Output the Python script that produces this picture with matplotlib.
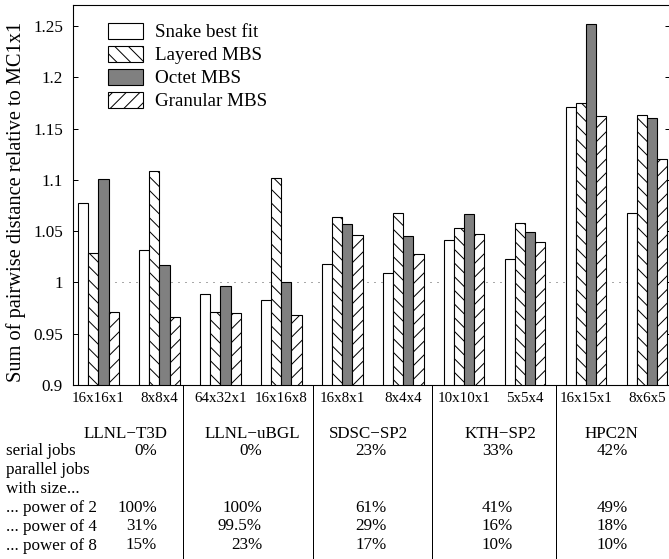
import matplotlib
matplotlib.use("Agg")
import matplotlib.pyplot as plt
from matplotlib.patches import Patch
from matplotlib.lines import Line2D
import numpy as np

# ---- data ----
configs = ["16x16x1", "8x8x4", "64x32x1", "16x16x8", "16x8x1",
           "8x4x4", "10x10x1", "5x5x4", "16x15x1", "8x6x5"]
snake = [1.077, 1.032, 0.989, 0.983, 1.018, 1.009, 1.041, 1.023, 1.171, 1.068]
layered = [1.029, 1.109, 0.971, 1.102, 1.064, 1.068, 1.053, 1.058, 1.175, 1.163]
octet = [1.101, 1.017, 0.997, 1.000, 1.057, 1.045, 1.067, 1.049, 1.252, 1.160]
granular = [0.971, 0.966, 0.970, 0.968, 1.046, 1.028, 1.047, 1.039, 1.162, 1.120]
series_names = ["Snake best fit", "Layered MBS", "Octet MBS", "Granular MBS"]

yticks = [0.9, 0.95, 1.0, 1.05, 1.1, 1.15, 1.2, 1.25]
ytick_labels = ["0.9", "0.95", "1", "1.05", "1.1", "1.15", "1.2", "1.25"]

machines = ["LLNL\u2212T3D", "LLNL\u2212uBGL", "SDSC\u2212SP2", "KTH\u2212SP2", "HPC2N"]
row_labels = ["serial jobs", "parallel jobs", "with size...",
              "... power of 2", "... power of 4", "... power of 8"]
serial = ["0%", "0%", "23%", "33%", "42%"]
pow2 = ["100%", "100%", "61%", "41%", "49%"]
pow4 = ["31%", "99.5%", "29%", "16%", "18%"]
pow8 = ["15%", "23%", "17%", "10%", "10%"]

# ---- layout (pixels of the 669x559 output) ----
DPI = 82
W, H = 669, 559


def pt(v):
    # pixels -> points
    return v * 72.0 / DPI


plt.rcParams["font.family"] = ["Liberation Serif", "DejaVu Serif"]
plt.rcParams["hatch.linewidth"] = pt(1.0)

fig = plt.figure(figsize=(W / DPI, H / DPI), dpi=DPI)
ax = fig.add_axes([73 / W, (H - 385) / H, (670 - 73) / W, 380 / H])

x = np.arange(len(configs))
width = 0.167
styles = [
    dict(color="white", hatch=None),
    dict(color="white", hatch="\\\\"),
    dict(color="#808080", hatch=None),
    dict(color="white", hatch="//"),
]
handles = []
for i, (vals, st) in enumerate(zip([snake, layered, octet, granular], styles)):
    ax.bar(x + (i - 1.5) * width, vals, width, bottom=0,
           color=st["color"], edgecolor="black", hatch=st["hatch"],
           linewidth=pt(1.1), zorder=2)
    handles.append(Patch(facecolor=st["color"], edgecolor="black",
                         hatch=st["hatch"], linewidth=pt(1.1)))

ax.axhline(1.0, color="#555555", linewidth=pt(1.0),
           linestyle=(0, (1, 6)), zorder=1)

ax.set_xlim(-0.4184, 9.378)
ax.set_ylim(0.9, 1.2705)
ax.set_yticks(yticks)
ax.set_yticklabels(ytick_labels)
ax.set_xticks(x)
ax.set_xticklabels(configs)
ax.tick_params(axis="y", direction="in", left=True, right=True,
               length=pt(5), width=pt(1), labelsize=pt(17), pad=pt(10))
ax.tick_params(axis="x", length=0, labelsize=pt(15), pad=pt(7.5))
for sp in ax.spines.values():
    sp.set_linewidth(pt(1.1))

ax.set_ylabel("Sum of pairwise distance relative to MC1x1", fontsize=pt(20.4))
ax.yaxis.set_label_coords(-0.079, 0.483)

leg_fs = 19.0
ax.legend(handles, series_names, loc="upper left",
          bbox_to_anchor=((108 - 73) / 597, (385 - 23) / 380),
          frameon=False, fontsize=pt(leg_fs), borderpad=0, borderaxespad=0,
          handlelength=35 / leg_fs, handleheight=17 / leg_fs,
          handletextpad=12 / leg_fs, labelspacing=0.24)

# ---- table under the axes ----
def fx(px):
    return px / W


def fy(py):
    return 1 - py / H


tfs = pt(17)
name_x = [125.5, 252.5, 368.5, 500, 611.5]
col_right = [157, 262, 387, 513, 628]
for name, cx in zip(machines, name_x):
    fig.text(fx(cx), fy(438), name, ha="center", va="baseline", fontsize=tfs)

row_base = [455, 474, 493, 512, 531, 550]
for lab, yb in zip(row_labels, row_base):
    fig.text(fx(6), fy(yb), lab, ha="left", va="baseline", fontsize=tfs)

for vals, yb in zip([serial, pow2, pow4, pow8], [455, 512, 530, 549]):
    for v, rx in zip(vals, col_right):
        fig.text(fx(rx), fy(yb), v, ha="right", va="baseline", fontsize=tfs)

for sx in [183, 313, 432, 556]:
    fig.add_artist(Line2D([fx(sx), fx(sx)], [fy(385), fy(559)],
                          color="black", linewidth=pt(1.0)))

fig.savefig("out.png", dpi=DPI)
